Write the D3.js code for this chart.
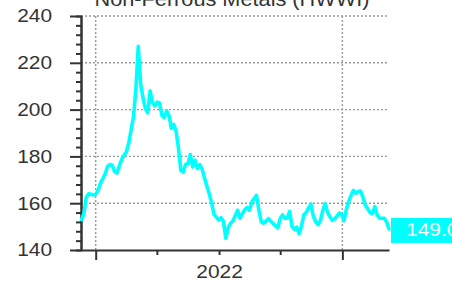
<html>
<head>
<title>Non-Ferrous Metals (HWWI)</title>
<script src="https://cdn.jsdelivr.net/npm/d3@7"></script>
<style>
  body { margin: 0; background: #fff; }
  svg { display: block; font-family: "Liberation Sans", Arial, sans-serif; }
</style>
</head>
<body>
<div id="chartholder"></div>
<script>
// weekly index values, first week ending 2020-11-20
var firstWeek = "2020-11-20";
var values = [
  153, 155.5, 162.4, 164, 163.8, 163.5, 163.8, 165.5, 168.5, 170.5,
  172.5, 175.7, 176.5, 176.2, 173.5, 172.9, 176, 178.7, 180.5, 182,
  185.8, 191.5, 197, 209, 227, 211, 205, 200.5, 198.6, 208,
  203, 201.5, 203.2, 202.8, 197.5, 196.5, 199.5, 197.4, 192, 193.7,
  190.7, 183.5, 174, 173.3, 176.6, 176.8, 180.8, 175.5, 178.4, 174.8,
  176.5, 174.5, 170.8, 167.3, 164, 160.2, 155.3, 154, 152.8, 153.8,
  152.3, 145, 149.5, 151.4, 152.4, 154.6, 157, 153.6, 155.4, 157.2,
  158.2, 157, 160.5, 162, 163.3, 157, 152, 151.5, 152.3, 153.4,
  152.3, 151.3, 150.3, 149.5, 153.4, 155, 153.5, 153.7, 156.5, 150,
  148.8, 149.8, 147, 150.2, 155, 156, 158, 159.6, 154.5, 152.2,
  150.8, 152.5, 156.8, 159.8, 156.2, 154.2, 152.7, 153.3, 154.5, 155.8,
  155.2, 152.5, 157.5, 160.8, 163.5, 165.5, 164.2, 165, 165.2, 162.5,
  159.1, 157.6, 156, 155.5, 158.6, 155, 153.6, 153.6, 153.6, 152,
  149
];
var lastLabel = "149.0";
var titleText = "Non-Ferrous Metals (HWWI)";

var yMajorTicks = [140, 160, 180, 200, 220, 240];
var yMinorTicks = d3.range(140, 241, 4).filter(function(v) { return v % 20 !== 0; });
var xTicks = ["2021-01-01", "2021-07-01", "2022-01-01", "2022-07-01", "2023-01-01"];
var xMajorTicks = ["2021-01-01", "2023-01-01"];
var xTickLabels = {"2022-01-01": "2022"};

var parse = d3.utcParse("%Y-%m-%d");
var fmt = d3.utcFormat("%Y-%m-%d");
var start = parse(firstWeek);
var data = values.map(function(v, i) {
  return {date: d3.utcWeek.offset(start, i), value: v};
});

var width = 452, height = 285;
var plot = {left: 81, right: 389, top: 16, bottom: 250};
var ink = "#333";
var cyan = "#00ffff";

var svg = d3.select("#chartholder").append("svg")
  .attr("width", width)
  .attr("height", height);

var x = d3.scaleUtc()
  .domain([new Date(Date.UTC(2020, 10, 18, 12)), new Date(Date.UTC(2023, 4, 19))])
  .range([plot.left, plot.right]);

var y = d3.scaleLinear()
  .domain([140, 240])
  .range([plot.bottom, plot.top]);

function stretch(sel, k) {
  sel.each(function() {
    var w = this.getComputedTextLength();
    d3.select(this).attr("textLength", w * k).attr("lengthAdjust", "spacingAndGlyphs");
  });
}

// grid
var grid = svg.append("g")
  .attr("stroke", "#999")
  .attr("stroke-width", 1.4)
  .attr("stroke-dasharray", "2,2");
grid.selectAll("line.h")
  .data(yMajorTicks.slice(1))
  .enter().append("line")
    .attr("x1", plot.left).attr("x2", plot.right)
    .attr("y1", function(d) { return y(d); })
    .attr("y2", function(d) { return y(d); });
grid.selectAll("line.v")
  .data(xMajorTicks.map(parse))
  .enter().append("line")
    .attr("x1", function(d) { return x(d); })
    .attr("x2", function(d) { return x(d); })
    .attr("y1", plot.top).attr("y2", plot.bottom);

// y axis
var yMinor = svg.append("g")
  .attr("transform", "translate(" + plot.left + ",0)")
  .call(d3.axisLeft(y).tickValues(yMinorTicks).tickSize(5).tickFormat(""));
var yMajor = svg.append("g")
  .attr("transform", "translate(" + plot.left + ",0)")
  .call(d3.axisLeft(y).tickValues(yMajorTicks).tickSize(11).tickPadding(18).tickSizeOuter(0));

// x axis
var xAxis = svg.append("g")
  .attr("transform", "translate(0," + plot.bottom + ")")
  .call(d3.axisBottom(x)
    .tickValues(xTicks.map(parse))
    .tickSize(5)
    .tickPadding(10)
    .tickSizeOuter(0)
    .tickFormat(function(d) { return xTickLabels[fmt(d)] || ""; }));
xAxis.selectAll(".tick")
  .filter(function(d) { return xMajorTicks.indexOf(fmt(d)) >= 0; })
  .select("line").attr("y2", 10);

[yMinor, yMajor, xAxis].forEach(function(g) {
  g.select(".domain").attr("stroke", ink).attr("stroke-width", 2);
  g.selectAll(".tick line").attr("stroke", ink).attr("stroke-width", 2);
  g.selectAll(".tick text")
    .attr("fill", ink)
    .style("font-size", "18.5px")
    .style("font-family", "'Liberation Sans', Arial, sans-serif");
});
yMajor.selectAll(".tick text").call(stretch, 1.13);
xAxis.selectAll(".tick text").call(stretch, 1.13);

// line
var line = d3.line()
  .x(function(d) { return x(d.date); })
  .y(function(d) { return y(d.value); });

svg.append("path")
  .datum(data)
  .attr("fill", "none")
  .attr("stroke", cyan)
  .attr("stroke-width", 3.6)
  .attr("stroke-linejoin", "round")
  .attr("stroke-linecap", "round")
  .attr("d", line);

// last value label
var last = data[data.length - 1];
var ly = y(last.value);
svg.append("rect")
  .attr("x", plot.right + 2)
  .attr("y", ly - 11)
  .attr("width", 80)
  .attr("height", 25)
  .attr("fill", cyan);
svg.append("text")
  .attr("x", plot.right + 17)
  .attr("y", ly + 7)
  .attr("fill", "#fff")
  .style("font-size", "18.5px")
  .text(lastLabel)
  .call(stretch, 1.13);

// title
svg.append("text")
  .attr("x", 232)
  .attr("y", 6)
  .attr("text-anchor", "middle")
  .attr("fill", ink)
  .style("font-size", "19.5px")
  .attr("textLength", 275)
  .attr("lengthAdjust", "spacingAndGlyphs")
  .text(titleText);
</script>
</body>
</html>
